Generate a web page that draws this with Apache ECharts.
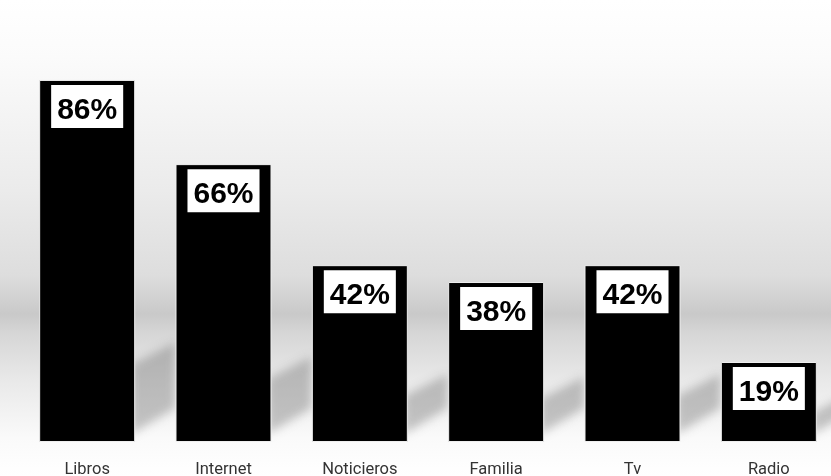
<!DOCTYPE html>
<html lang="es">
<head>
    <meta charset="UTF-8">
    <title>Fuentes</title>
    <script src="https://cdn.jsdelivr.net/npm/echarts@6/dist/echarts.min.js"></script>
    <style>
        html, body { margin: 0; padding: 0; }
    </style>
</head>
<body>
<div id="main" style="width: 831px;height:476px;"></div>
<script type="text/javascript">
    var categorias = ['Libros', 'Internet', 'Noticieros', 'Familia', 'Tv', 'Radio'];
    var valores = [86, 66, 42, 38, 42, 19];

    var myChart = echarts.init(document.getElementById('main'));

    // sombra difusa detrás de cada barra (solo se pinta la sombra desplazada)
    var desp = 3000;
    function sombra(params, api) {
        var p = api.coord([api.value(0), 0]);
        var t = api.coord([api.value(0), api.value(1)]);
        var w = api.size([1, 0])[0] * 0.705;
        var h = p[1] - t[1];
        var x = p[0] + w / 2 - desp;
        var y = p[1];
        var alto = 16 + h * 0.17;
        return {
            type: 'polygon',
            shape: {
                points: [[x - 4, y - 8], [x - 4, y - alto], [x + 40, y - alto - 22], [x + 40, y - 34]]
            },
            style: {
                fill: 'rgba(100,100,100,0.6)',
                shadowBlur: 10,
                shadowColor: 'rgba(100,100,100,0.6)',
                shadowOffsetX: desp
            }
        };
    }

    var option = {
        backgroundColor: {
            type: 'linear', x: 0, y: 0, x2: 0, y2: 1,
            colorStops: [
                {offset: 0, color: '#ffffff'},
                {offset: 0.12, color: '#fbfbfb'},
                {offset: 0.4, color: '#ebebeb'},
                {offset: 0.58, color: '#dddddd'},
                {offset: 0.66, color: '#c9c9c9'},
                {offset: 0.7, color: '#d6d6d6'},
                {offset: 0.8, color: '#e9e9e9'},
                {offset: 0.92, color: '#fafafa'},
                {offset: 1, color: '#ffffff'}
            ]
        },
        animation: false,
        grid: {
            left: 19,
            top: 21,
            width: 818,
            height: 421,
            outerBoundsMode: 'none'
        },
        xAxis: {
            type: 'category',
            data: categorias,
            axisLine: {show: false},
            axisTick: {show: false},
            axisLabel: {
                margin: 19,
                fontSize: 16.5,
                color: '#333',
                fontFamily: 'Roboto'
            }
        },
        yAxis: {
            type: 'value',
            min: 0,
            max: 100,
            show: false
        },
        series: [{
            type: 'custom',
            renderItem: sombra,
            data: valores.map(function (v, i) { return [i, v]; }),
            z: 1,
            clip: false,
            silent: true
        }, {
            type: 'bar',
            data: valores,
            barWidth: 96,
            z: 2,
            itemStyle: {
                color: '#000',
                borderColor: '#eeeeee',
                borderWidth: 1
            },
            label: {
                show: true,
                position: 'insideTop',
                distance: 5,
                formatter: '{c}%',
                backgroundColor: '#fff',
                padding: [10, 6, 2, 6],
                color: '#000',
                fontSize: 30,
                fontWeight: 'bold',
                fontFamily: 'Liberation Sans',
                lineHeight: 31
            }
        }]
    };

    myChart.setOption(option);
</script>
</body>
</html>
